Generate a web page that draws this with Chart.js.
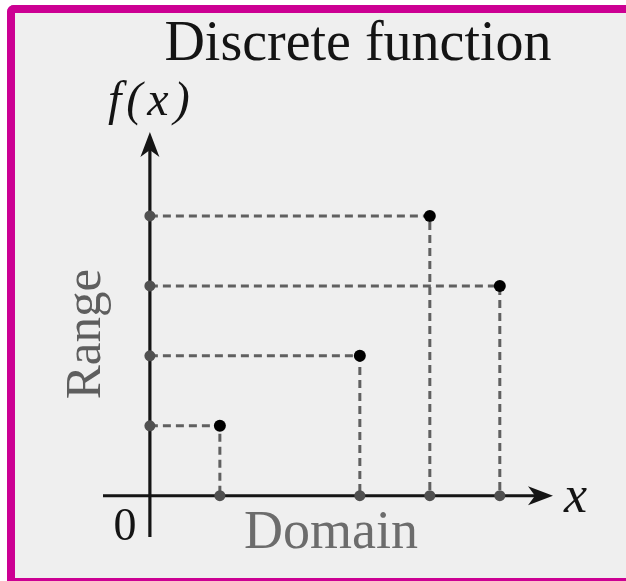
<!DOCTYPE html>
<html>
<head>
<meta charset="utf-8">
<script src="https://cdn.jsdelivr.net/npm/chart.js@4.4.1/dist/chart.umd.min.js"></script>
<style>
  html, body { margin: 0; padding: 0; background: #ffffff; }
  #frame {
    position: absolute; left: 7px; top: 5px; right: 0; bottom: 0;
    border-top: 8px solid #cc0093; border-left: 8px solid #cc0093; border-bottom: 3px solid #cc0093;
    border-radius: 7px 0 0 0; background: #efefef;
  }
  #chart { position: absolute; left: 0; top: 0; }
</style>
</head>
<body>
<div id="frame"></div>
<canvas id="chart" width="626" height="581"></canvas>
<script>
// domain values and their images
const xValues = [1, 3, 4, 5];
const yValues = [1, 2, 4, 3];

// visible extent of the axes (in data units)
const xRange = [-0.67, 5.76];
const yRange = [-0.59, 5.2];

const guideData = xValues.map((x, i) => [
    { x: 0, y: yValues[i] },
    { x: x, y: yValues[i] },
    { x: x, y: 0 }
]);

const axisDots = xValues.map(x => ({ x: x, y: 0 }))
    .concat(yValues.map(y => ({ x: 0, y: y })));

const points = xValues.map((x, i) => ({ x: x, y: yValues[i] }));

// axes with arrowheads, drawn under the marks
const axesPlugin = {
    id: 'axes',
    beforeDatasetsDraw(chart) {
        const ctx = chart.ctx;
        const xs = chart.scales.x, ys = chart.scales.y;
        const ox = xs.getPixelForValue(0), oy = ys.getPixelForValue(0);
        const x0 = xs.getPixelForValue(xRange[0]), x1 = xs.getPixelForValue(xRange[1]);
        const y0 = ys.getPixelForValue(yRange[0]), y1 = ys.getPixelForValue(yRange[1]);
        ctx.save();
        ctx.strokeStyle = '#151515';
        ctx.fillStyle = '#151515';
        ctx.lineWidth = 3.2;
        ctx.beginPath();
        ctx.moveTo(x0, oy); ctx.lineTo(x1 - 10, oy);
        ctx.moveTo(ox, y0); ctx.lineTo(ox, y1 + 10);
        ctx.stroke();
        // x arrow
        ctx.beginPath();
        ctx.moveTo(x1, oy);
        ctx.lineTo(x1 - 25, oy - 9.5);
        ctx.lineTo(x1 - 18, oy);
        ctx.lineTo(x1 - 25, oy + 9.5);
        ctx.closePath();
        ctx.fill();
        // y arrow
        ctx.beginPath();
        ctx.moveTo(ox, y1);
        ctx.lineTo(ox - 9.5, y1 + 25);
        ctx.lineTo(ox, y1 + 18);
        ctx.lineTo(ox + 9.5, y1 + 25);
        ctx.closePath();
        ctx.fill();
        ctx.restore();
    }
};

// labels
const labelsPlugin = {
    id: 'labels',
    afterDraw(chart) {
        const ctx = chart.ctx;
        ctx.save();
        ctx.textBaseline = 'alphabetic';

        ctx.fillStyle = '#141414';
        ctx.font = '56px "Liberation Serif"';
        ctx.textAlign = 'center';
        ctx.fillText('Discrete function', 358, 60);

        ctx.font = 'italic 48px "Liberation Serif"';
        ctx.textAlign = 'left';
        ctx.letterSpacing = '5px';
        ctx.fillText('f(x)', 108, 115);
        ctx.letterSpacing = '0px';

        ctx.font = 'italic 52px "Liberation Serif"';
        ctx.fillText('x', 564, 512);

        ctx.font = '46px "Liberation Serif"';
        ctx.textAlign = 'center';
        ctx.fillText('0', 125, 540);

        ctx.fillStyle = '#6c6c6c';
        ctx.font = '54px "Liberation Serif"';
        ctx.fillText('Domain', 331, 548);

        ctx.fillStyle = '#5e5e5e';
        ctx.font = '51px "Liberation Serif"';
        ctx.translate(100, 334);
        ctx.rotate(-Math.PI / 2);
        ctx.fillText('Range', 0, 0);
        ctx.restore();
    }
};

const datasets = guideData.map(d => ({
    type: 'line',
    data: d,
    borderColor: '#606060',
    borderWidth: 3,
    borderDash: [8, 5],
    pointRadius: 0,
    fill: false,
    order: 2
}));

datasets.push({
    data: axisDots,
    backgroundColor: '#505050',
    borderWidth: 0,
    pointRadius: 5.5,
    order: 1
});

datasets.push({
    data: points,
    backgroundColor: '#000000',
    borderWidth: 0,
    pointRadius: 6,
    order: 0
});

new Chart(document.getElementById('chart'), {
    type: 'scatter',
    data: { datasets: datasets },
    options: {
        responsive: false,
        animation: false,
        layout: { padding: { left: 103, right: 73, top: 132, bottom: 44 } },
        scales: {
            x: { type: 'linear', min: xRange[0], max: xRange[1], display: false },
            y: { type: 'linear', min: yRange[0], max: yRange[1], display: false }
        },
        plugins: {
            legend: { display: false },
            tooltip: { enabled: false },
            title: { display: false }
        }
    },
    plugins: [axesPlugin, labelsPlugin]
});
</script>
</body>
</html>
